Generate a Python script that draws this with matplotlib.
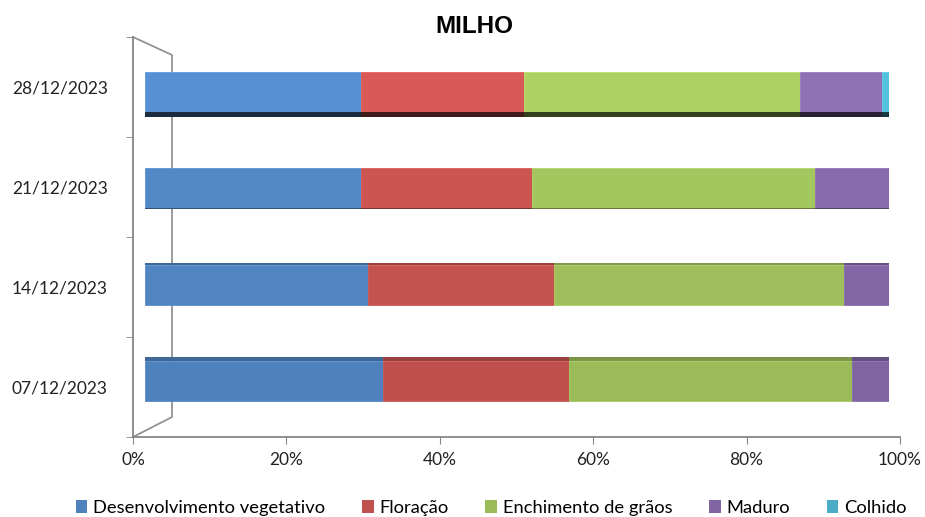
import numpy as np
import matplotlib
matplotlib.use("Agg")
import matplotlib.pyplot as plt
from matplotlib.patches import Patch
from matplotlib.lines import Line2D
from matplotlib.colors import to_rgb

W, H = 925, 517

dates = ["07/12/2023", "14/12/2023", "21/12/2023", "28/12/2023"]
stages = ["Desenvolvimento vegetativo", "Floração", "Enchimento de grãos", "Maduro", "Colhido"]
colors = ["#4F81BD", "#C0504D", "#9BBB59", "#8064A2", "#4BACC6"]

# percentages per stage, one value per date (bottom row first)
desenv = [32, 30, 29, 29]
floracao = [25, 25, 23, 22]
enchimento = [38, 39, 38, 37]
maduro = [5, 6, 10, 11]
colhido = [0, 0, 0, 1]
series = [desenv, floracao, enchimento, maduro, colhido]

# lighting of the 3D bars: top rows look brighter
light = [1.0, 1.02, 1.06, 1.12]
# visible depth faces (top face on lower bars, bottom face on upper bars)
top_face = [0.045, 0.012, 0.0, 0.0]
bot_face = [0.0, 0.0, 0.008, 0.05]
bot_dark = [1, 1, 0.6, 0.3]


def px(x, y):
    return x / W, 1 - y / H


def bright(c, f):
    return tuple(np.clip(np.array(to_rgb(c)) * f, 0, 1))


fig = plt.figure(figsize=(W / 100, H / 100), dpi=100)
plt.rcParams['font.family'] = ['Lato', 'DejaVu Sans']

# main axes: ticks, labels and floor
ax = fig.add_axes([133 / W, 1 - 437 / H, 767 / W, 400 / H])
ax.set_xlim(0, 1)
ax.set_ylim(-0.5, len(dates) - 0.5)
ax.set_xticks(np.linspace(0, 1, 6))
ax.set_xticklabels([f"{int(v)}%" for v in np.linspace(0, 100, 6)], fontsize=12.5, color="#222222")
ax.set_yticks(np.arange(len(dates)))
ax.set_yticklabels(dates, fontsize=12.5, color="#222222")
ax.set_yticks(np.arange(-0.5, len(dates)), minor=True)
ax.tick_params(axis="y", which="major", length=0, pad=18)
ax.tick_params(axis="y", which="minor", length=5, color="#868686", direction="out")
ax.tick_params(axis="x", length=5, color="#868686", direction="out", pad=6)
for s in ["top", "right"]:
    ax.spines[s].set_visible(False)
for s in ["left", "bottom"]:
    ax.spines[s].set_color("#868686")
    ax.spines[s].set_linewidth(1.3)
ax.patch.set_alpha(0)

# back wall of the 3D box (drawn in the lower axes so the bars cover it)
wall = [px(133, 37), px(172, 55), px(172, 417), px(133, 437)]
ax.add_line(Line2D([p[0] for p in wall], [p[1] for p in wall], color="#939393",
                   lw=1.3, transform=fig.transFigure, clip_on=False))

# bar axes (front faces of the 3D bars)
ax2 = fig.add_axes([145 / W, 1 - 429 / H, 744 / W, 385 / H])
ax2.set_xlim(0, 100)
ax2.set_ylim(-0.5, len(dates) - 0.5)
ax2.axis("off")

bh = 0.415
y = np.arange(len(dates))
left = np.zeros(len(dates))
for vals, c in zip(series, colors):
    vals = np.array(vals, dtype=float)
    for i in range(len(dates)):
        if vals[i] <= 0:
            continue
        fc = bright(c, light[i])
        ax2.barh(y[i], vals[i], left=left[i], height=bh, color=fc,
                 edgecolor=bright(fc, 1.08), linewidth=0.6)
        if top_face[i] > 0:
            ax2.barh(y[i] + bh / 2 + top_face[i] / 2, vals[i], left=left[i],
                     height=top_face[i], color=bright(fc, 0.8), linewidth=0)
        if bot_face[i] > 0:
            ax2.barh(y[i] - bh / 2 - bot_face[i] / 2, vals[i], left=left[i],
                     height=bot_face[i], color=bright(fc, bot_dark[i]), linewidth=0)
    left += vals

fig.text(474 / W, 1 - 27 / H, "MILHO", ha="center", va="center",
         fontsize=17.5, fontweight="bold", family="Liberation Sans")

handles = [Patch(facecolor=c, edgecolor="none") for c in colors]
fig.legend(handles, stages, loc="center", bbox_to_anchor=(491 / W, 1 - 508 / H),
           ncol=5, frameon=False, fontsize=13.2, handlelength=0.65, handleheight=0.75,
           handletextpad=0.3, columnspacing=2.0, borderaxespad=0)

fig.savefig("out.png", dpi=100)
